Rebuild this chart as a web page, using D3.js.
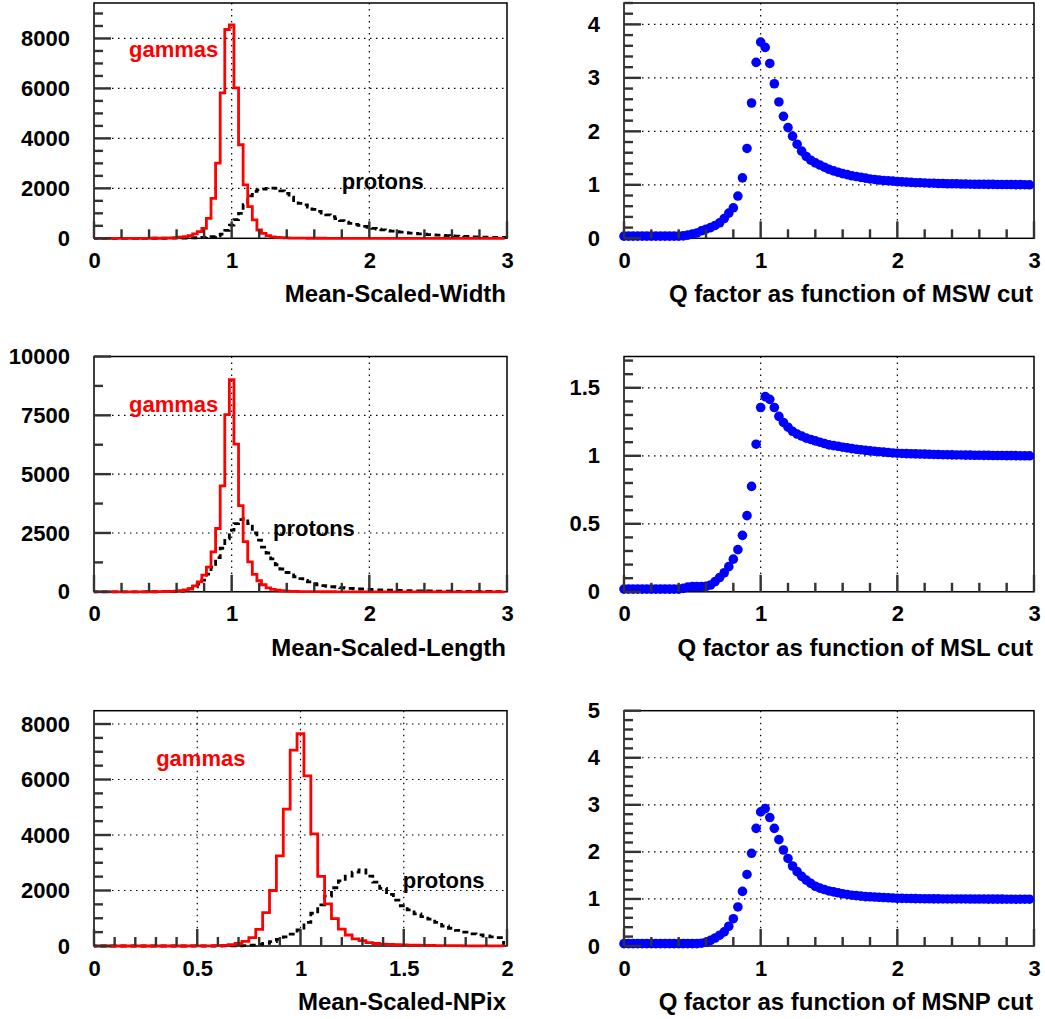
<!DOCTYPE html>
<html>
<head>
<meta charset="utf-8">
<script src="https://cdn.jsdelivr.net/npm/d3@7"></script>
<style>
  body { margin: 0; background: #fff; }
  svg text { font-family: "Liberation Sans", Arial, Helvetica, sans-serif; font-weight: bold; }
</style>
</head>
<body>
<svg id="chart" width="1045" height="1019"></svg>
<script>
// Histograms: one value per bin, bins of width 1/30 centred on k/30.
const BIN_WIDTH = 1 / 30;

const mswGammas = [
  0, 0, 0, 0, 0, 0, 0, 0, 0, 0,
  0, 1, 1, 2, 3, 5, 8, 15, 25, 45,
  70, 110, 175, 270, 400, 800, 1600, 3010, 5820, 8360,
  8540, 6020, 3745, 2140, 1270, 735, 333, 200, 105, 60,
  40, 25, 15, 10, 7, 5, 4, 3, 3, 2,
  2, 1, 1, 1, 1, 0, 0, 0, 0, 0,
  0, 0, 0, 0, 0, 0, 0, 0, 0, 0,
  0, 0, 0, 0, 0, 0, 0, 0, 0, 0,
  0, 0, 0, 0, 0, 0, 0, 0, 0, 0];
const mswProtons = [
  0, 0, 0, 0, 0, 0, 0, 0, 0, 0,
  1, 1, 1, 2, 2, 3, 4, 5, 7, 9,
  12, 16, 22, 30, 40, 55, 70, 100, 170, 320,
  530, 750, 1000, 1350, 1700, 1880, 1940, 1970, 2000, 2010,
  2000, 1900, 1800, 1650, 1510, 1400, 1340, 1250, 1160, 1080,
  1010, 940, 870, 790, 710, 650, 600, 560, 520, 480,
  440, 400, 370, 340, 310, 290, 270, 250, 230, 210,
  195, 180, 165, 150, 135, 125, 115, 105, 95, 88,
  80, 72, 66, 60, 55, 50, 45, 40, 36, 32];
const mswQ = [
  0.04, 0.04, 0.04, 0.04, 0.04, 0.04, 0.04, 0.04, 0.04, 0.04,
  0.04, 0.04, 0.04, 0.045, 0.06, 0.08, 0.10, 0.14, 0.17, 0.20,
  0.24, 0.29, 0.37, 0.47, 0.57, 0.79, 1.13, 1.68, 2.53, 3.29,
  3.67, 3.57, 3.27, 2.89, 2.55, 2.28, 2.07, 1.91, 1.76, 1.63,
  1.53, 1.46, 1.41, 1.37, 1.33, 1.29, 1.26, 1.235, 1.21, 1.19,
  1.17, 1.155, 1.14, 1.125, 1.11, 1.10, 1.09, 1.08, 1.075, 1.07,
  1.06, 1.055, 1.05, 1.045, 1.04, 1.04, 1.035, 1.03, 1.03, 1.025,
  1.025, 1.02, 1.02, 1.02, 1.015, 1.015, 1.012, 1.01, 1.01, 1.01,
  1.008, 1.008, 1.006, 1.006, 1.005, 1.005, 1.004, 1.003, 1.002, 1.0];

const mslGammas = [
  0, 0, 0, 0, 0, 0, 0, 0, 0, 0,
  0, 1, 2, 3, 5, 8, 12, 20, 30, 50,
  80, 130, 250, 420, 710, 1050, 1700, 2690, 4500, 7530,
  9020, 6280, 3660, 2130, 1270, 740, 470, 300, 170, 100,
  70, 45, 30, 20, 15, 10, 8, 6, 5, 4,
  3, 2, 2, 1, 1, 1, 1, 0, 0, 0,
  0, 0, 0, 0, 0, 0, 0, 0, 0, 0,
  0, 0, 0, 0, 0, 0, 0, 0, 0, 0,
  0, 0, 0, 0, 0, 0, 0, 0, 0, 0];
const mslProtons = [
  0, 0, 0, 0, 0, 0, 0, 0, 0, 0,
  1, 1, 2, 2, 3, 5, 8, 12, 20, 35,
  60, 130, 210, 330, 500, 750, 1050, 1450, 1850, 2250,
  2620, 2900, 3070, 3110, 2900, 2500, 2200, 1900, 1650, 1400,
  1150, 970, 820, 720, 640, 560, 480, 420, 350, 300,
  260, 235, 215, 195, 175, 160, 145, 130, 120, 110,
  100, 92, 85, 78, 72, 66, 60, 55, 50, 46,
  42, 39, 36, 33, 30, 28, 26, 24, 22, 20,
  19, 18, 17, 16, 15, 14, 13, 12, 11, 10];
const mslQ = [
  0.02, 0.02, 0.02, 0.02, 0.02, 0.02, 0.02, 0.02, 0.02, 0.02,
  0.02, 0.02, 0.02, 0.025, 0.035, 0.038, 0.038, 0.038, 0.04, 0.05,
  0.075, 0.105, 0.14, 0.185, 0.24, 0.31, 0.415, 0.56, 0.775, 1.085,
  1.355, 1.435, 1.415, 1.355, 1.29, 1.245, 1.21, 1.18, 1.16, 1.145,
  1.13, 1.12, 1.11, 1.10, 1.09, 1.08, 1.075, 1.07, 1.063, 1.058,
  1.053, 1.048, 1.044, 1.04, 1.036, 1.033, 1.03, 1.027, 1.024, 1.021,
  1.019, 1.017, 1.016, 1.015, 1.014, 1.013, 1.012, 1.011, 1.010, 1.009,
  1.008, 1.008, 1.007, 1.006, 1.006, 1.005, 1.005, 1.004, 1.004, 1.003,
  1.003, 1.002, 1.002, 1.002, 1.001, 1.001, 1.001, 1.0, 1.0, 1.0];

const msnpGammas = [
  0, 0, 0, 0, 0, 0, 0, 0, 0, 0,
  0, 0, 0, 0, 1, 2, 3, 5, 10, 20,
  45, 90, 170, 300, 600, 1200, 2000, 3250, 4930, 7060,
  7650, 6130, 4040, 2510, 1520, 990, 610, 396, 256, 192,
  120, 90, 70, 55, 45, 38, 32, 28, 24, 20,
  17, 14, 12, 10, 8, 7, 6, 5, 5, 4];
const msnpProtons = [
  0, 0, 0, 0, 0, 0, 0, 0, 0, 0,
  0, 0, 0, 0, 0, 0, 0, 0, 0, 1,
  2, 5, 12, 30, 55, 95, 160, 240, 330, 430,
  580, 850, 1180, 1480, 1800, 2100, 2350, 2520, 2660, 2740,
  2520, 2300, 2080, 1860, 1650, 1450, 1300, 1160, 1060, 970,
  850, 720, 640, 560, 500, 440, 400, 360, 330, 300];
const msnpQ = [
  0.05, 0.05, 0.05, 0.05, 0.05, 0.05, 0.05, 0.05, 0.05, 0.05,
  0.05, 0.05, 0.05, 0.05, 0.05, 0.05, 0.05, 0.06, 0.08, 0.12,
  0.17, 0.23, 0.30, 0.42, 0.58, 0.83, 1.16, 1.52, 1.97, 2.50,
  2.85, 2.92, 2.73, 2.50, 2.26, 2.04, 1.86, 1.70, 1.58, 1.48,
  1.40, 1.33, 1.27, 1.23, 1.20, 1.17, 1.15, 1.13, 1.11, 1.095,
  1.08, 1.07, 1.06, 1.05, 1.045, 1.04, 1.035, 1.03, 1.025, 1.02,
  1.015, 1.012, 1.010, 1.008, 1.006, 1.005, 1.004, 1.003, 1.002, 1.001,
  1.0, 1.0, 1.0, 1.0, 1.0, 1.0, 0.999, 0.999, 0.998, 0.998,
  0.997, 0.997, 0.996, 0.996, 0.995, 0.995, 0.995, 0.994, 0.994, 0.994];

// Look
const FONT = '"Liberation Sans", Arial, Helvetica, sans-serif';
const FONT_TICK = 22;
const FONT_TITLE = 24;
const MAJOR_TICK = 17;
const MINOR_TICK = 9;
const TICK_WIDTH = 2.4;
const GAMMA_COLOR = '#ff0000';
const PROTON_COLOR = '#000000';
const Q_COLOR = '#0000ff';

const LEFT_COL = {left: 94, width: 413};
const RIGHT_COL = {left: 624, width: 410};
const ROWS = [3, 356.5, 710.7];
const PANEL_HEIGHT = 235.3;

const panels = [
  {kind: 'hist', col: LEFT_COL, row: 0, xMax: 3, xMajor: 1, xMinor: 0.2,
   yMax: 9420, yMajor: 2000, yMinor: 500, gammas: mswGammas, protons: mswProtons,
   title: 'Mean-Scaled-Width', gammaAt: [0.254, 7240], protonAt: [1.80, 1980]},
  {kind: 'q', col: RIGHT_COL, row: 0, xMax: 3, xMajor: 1, xMinor: 0.2,
   yMax: 4.4, yMajor: 1, yMinor: 0.2, q: mswQ,
   title: 'Q factor as function of MSW cut'},
  {kind: 'hist', col: LEFT_COL, row: 1, xMax: 3, xMajor: 1, xMinor: 0.2,
   yMax: 10000, yMajor: 2500, yMinor: 1250, gammas: mslGammas, protons: mslProtons,
   title: 'Mean-Scaled-Length', gammaAt: [0.254, 7660], protonAt: [1.30, 2370]},
  {kind: 'q', col: RIGHT_COL, row: 1, xMax: 3, xMajor: 1, xMinor: 0.2,
   yMax: 1.73, yMajor: 0.5, yMinor: 0.1, q: mslQ,
   title: 'Q factor as function of MSL cut'},
  {kind: 'hist', col: LEFT_COL, row: 2, xMax: 2, xMajor: 0.5, xMinor: 0.1,
   yMax: 8480, yMajor: 2000, yMinor: 500, gammas: msnpGammas, protons: msnpProtons,
   title: 'Mean-Scaled-NPix', gammaAt: [0.301, 6490], protonAt: [1.495, 2090]},
  {kind: 'q', col: RIGHT_COL, row: 2, xMax: 3, xMajor: 1, xMinor: 0.2,
   yMax: 5, yMajor: 1, yMinor: 0.2, q: msnpQ,
   title: 'Q factor as function of MSNP cut'},
];

/** Tick values from 0 to max in steps, rounded to kill float noise. */
function ticksUpTo(max, step) {
  let out = [];
  for (let i = 0; i * step <= max + 1e-9; i++) {
    out.push(+(i * step).toFixed(6));
  }
  return out;
}

function fmt(d) {
  return String(+d.toFixed(3));
}

function stepPoints(values) {
  let pts = [[-BIN_WIDTH / 2, 0]];
  for (let i = 0; i < values.length; i++) {
    const c = i * BIN_WIDTH;
    pts.push([c - BIN_WIDTH / 2, values[i]]);
    pts.push([c + BIN_WIDTH / 2, values[i]]);
  }
  pts.push([(values.length - 0.5) * BIN_WIDTH, 0]);
  return pts;
}

function styleAxis(a) {
  a.select('.domain').remove();
  a.selectAll('line').remove();
  a.attr('font-family', FONT).attr('font-size', FONT_TICK).attr('font-weight', 'bold');
  a.selectAll('text').attr('fill', '#000');
}

/** Tick list with a length each: labelled ticks are long, others short. */
function tickList(max, minor, major) {
  return ticksUpTo(max, minor).map(function(v) {
    const isMajor = Math.abs(v / major - Math.round(v / major)) < 1e-6;
    return {v: v, len: isMajor ? MAJOR_TICK : MINOR_TICK};
  });
}

function drawPanel(svg, p, idx) {
  const top = ROWS[p.row];
  const bottom = top + PANEL_HEIGHT;
  const left = p.col.left;
  const right = left + p.col.width;

  const x = d3.scaleLinear().domain([0, p.xMax]).range([left, right]);
  const y = d3.scaleLinear().domain([0, p.yMax]).range([bottom, top]);

  const g = svg.append('g');
  const xMajors = ticksUpTo(p.xMax, p.xMajor);
  const yMajors = ticksUpTo(p.yMax, p.yMajor);

  // Dotted grid at the labelled ticks.
  g.append('g').selectAll('line')
    .data(xMajors.filter(function(v) { return v > 0 && v < p.xMax; }))
    .join('line')
      .attr('x1', function(d) { return x(d); })
      .attr('x2', function(d) { return x(d); })
      .attr('y1', top).attr('y2', bottom)
      .attr('stroke', '#000').attr('stroke-width', 1.2)
      .attr('stroke-dasharray', '1.5,4.5');
  g.append('g').selectAll('line')
    .data(yMajors.filter(function(v) { return v > 0 && v < p.yMax - 1e-9; }))
    .join('line')
      .attr('x1', left).attr('x2', right)
      .attr('y1', function(d) { return y(d); })
      .attr('y2', function(d) { return y(d); })
      .attr('stroke', '#000').attr('stroke-width', 1.2)
      .attr('stroke-dasharray', '1.5,4.5');

  g.append('rect')
      .attr('x', left).attr('y', top)
      .attr('width', right - left).attr('height', bottom - top)
      .attr('fill', 'none').attr('stroke', '#000').attr('stroke-width', 1.5);

  if (p.kind == 'hist') {
    const clipId = 'clip' + idx;
    svg.append('clipPath').attr('id', clipId)
      .append('rect')
        .attr('x', left).attr('y', top - 2)
        .attr('width', right - left).attr('height', bottom - top + 4);
    const line = d3.line()
        .x(function(d) { return x(d[0]); })
        .y(function(d) { return y(d[1]); });
    g.append('path')
        .attr('d', line(stepPoints(p.protons)))
        .attr('clip-path', 'url(#' + clipId + ')')
        .attr('fill', 'none').attr('stroke', PROTON_COLOR)
        .attr('stroke-width', 2.8).attr('stroke-dasharray', '6,4');
    g.append('path')
        .attr('d', line(stepPoints(p.gammas)))
        .attr('clip-path', 'url(#' + clipId + ')')
        .attr('fill', 'none').attr('stroke', GAMMA_COLOR)
        .attr('stroke-width', 2.8);

    g.append('text')
        .attr('x', x(p.gammaAt[0])).attr('y', y(p.gammaAt[1]))
        .attr('font-size', FONT_TICK).attr('fill', GAMMA_COLOR)
        .text('gammas');
    g.append('text')
        .attr('x', x(p.protonAt[0])).attr('y', y(p.protonAt[1]))
        .attr('font-size', FONT_TICK).attr('fill', '#000')
        .text('protons');
  } else {
    g.selectAll('circle')
      .data(p.q)
      .join('circle')
        .attr('cx', function(d, i) { return x(i * BIN_WIDTH); })
        .attr('cy', function(d) { return y(d); })
        .attr('r', 4.8)
        .attr('fill', Q_COLOR);
  }

  // Inward tick marks, ROOT style, as small filled rects.
  g.append('g').selectAll('rect')
    .data(tickList(p.xMax, p.xMinor, p.xMajor))
    .join('rect')
      .attr('x', function(t) { return x(t.v) - TICK_WIDTH / 2; })
      .attr('y', function(t) { return bottom - t.len; })
      .attr('width', TICK_WIDTH)
      .attr('height', function(t) { return t.len; })
      .attr('fill', '#333');
  g.append('g').selectAll('rect')
    .data(tickList(p.yMax, p.yMinor, p.yMajor))
    .join('rect')
      .attr('x', left)
      .attr('y', function(t) { return y(t.v) - TICK_WIDTH / 2; })
      .attr('width', function(t) { return t.len; })
      .attr('height', TICK_WIDTH)
      .attr('fill', '#333');

  // Labels from the d3 axes; their own lines are dropped.
  g.append('g').attr('transform', 'translate(0,' + bottom + ')')
      .call(d3.axisBottom(x).tickValues(xMajors).tickSize(0)
          .tickPadding(14).tickFormat(fmt))
      .call(styleAxis);
  g.append('g').attr('transform', 'translate(' + left + ',0)')
      .call(d3.axisLeft(y).tickValues(yMajors).tickSize(0)
          .tickPadding(24).tickFormat(fmt))
      .call(styleAxis);

  g.append('text')
      .attr('x', right - 1).attr('y', bottom + 64)
      .attr('text-anchor', 'end')
      .attr('font-size', FONT_TITLE).attr('fill', '#000')
      .text(p.title);
}

const svg = d3.select('#chart');
panels.forEach(function(p, i) { drawPanel(svg, p, i); });
</script>
</body>
</html>
